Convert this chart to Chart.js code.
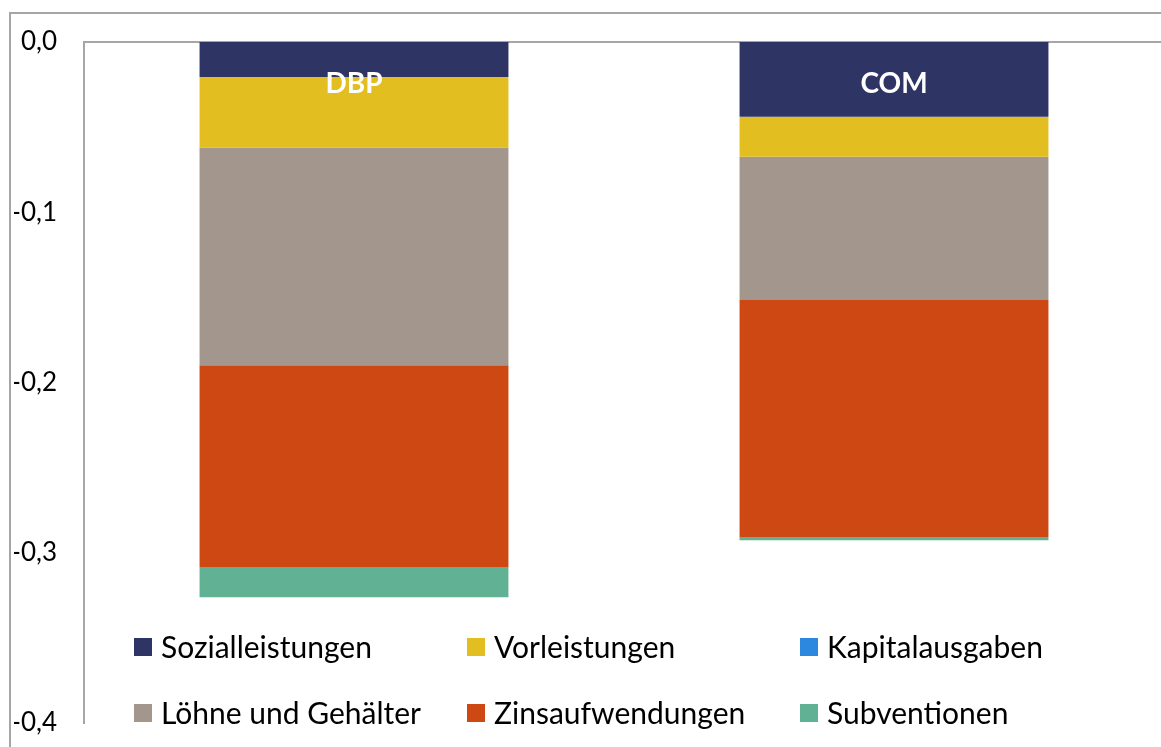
<!DOCTYPE html>
<html>
<head>
<meta charset="utf-8">
<script src="https://cdn.jsdelivr.net/npm/chart.js@4.4.0/dist/chart.umd.min.js"></script>
<style>
  html, body { margin: 0; padding: 0; overflow: hidden; background: #fff; }
  #wrap { position: relative; width: 1170px; height: 747px; }
  #frame { position: absolute; left: 9px; top: 12px; width: 2000px; height: 2000px; border: 2px solid #a6a6a6; box-sizing: border-box; }
  canvas { position: absolute; left: 0; top: 0; }
</style>
</head>
<body>
<div id="wrap">
  <div id="frame"></div>
  <canvas id="chart" width="1170" height="747"></canvas>
</div>
<script>
// Daten
var kategorien = ['DBP', 'COM'];
var sozialleistungen = [-0.0206, -0.0439];
var vorleistungen = [-0.0413, -0.0235];
var kapitalausgaben = [0, 0];
var loehne = [-0.1279, -0.0842];
var zinsen = [-0.1185, -0.1392];
var subventionen = [-0.0178, -0.0018];
var yTicks = [0, -0.1, -0.2, -0.3, -0.4];

var serien = [
  { label: 'Sozialleistungen', data: sozialleistungen, color: '#2E3464' },
  { label: 'Vorleistungen', data: vorleistungen, color: '#E3BE20' },
  { label: 'Kapitalausgaben', data: kapitalausgaben, color: '#2B88DE' },
  { label: 'Löhne und Gehälter', data: loehne, color: '#A3968D' },
  { label: 'Zinsaufwendungen', data: zinsen, color: '#CE4814' },
  { label: 'Subventionen', data: subventionen, color: '#61B195' }
];

// Kategorienamen in den Balken
var labelPlugin = {
  id: 'catLabels',
  afterDatasetsDraw: function(chart) {
    var ctx = chart.ctx;
    var x = chart.scales.x;
    ctx.save();
    ctx.fillStyle = '#ffffff';
    ctx.font = 'bold 28px Lato';
    ctx.textAlign = 'center';
    ctx.textBaseline = 'middle';
    kategorien.forEach(function(k, i) {
      ctx.fillText(k, x.getPixelForValue(i), chart.chartArea.top + 42);
    });
    ctx.restore();
  }
};

// Legende innerhalb der Zeichenfläche, 3 Spalten
var legendPlugin = {
  id: 'innerLegend',
  afterDraw: function(chart) {
    var ctx = chart.ctx;
    var cols = [134, 467, 800];
    var rows = [647, 713];
    ctx.save();
    ctx.font = '30px Lato';
    ctx.textBaseline = 'middle';
    chart.data.datasets.forEach(function(ds, i) {
      var cx = cols[i % 3];
      var cy = rows[Math.floor(i / 3)];
      ctx.fillStyle = ds.backgroundColor;
      ctx.fillRect(cx, cy - 9, 18, 18);
      ctx.fillStyle = '#000000';
      ctx.fillText(ds.label, cx + 27, cy + 1);
    });
    ctx.restore();
  }
};

var chart = new Chart(document.getElementById('chart'), {
  type: 'bar',
  data: {
    labels: kategorien,
    datasets: serien.map(function(s) {
      return {
        label: s.label,
        data: s.data,
        backgroundColor: s.color,
        borderWidth: 0,
        barPercentage: 0.572,
        categoryPercentage: 1
      };
    })
  },
  options: {
    responsive: false,
    animation: false,
    layout: { padding: { left: 14, top: 42, right: 6, bottom: 24 } },
    plugins: { legend: { display: false }, tooltip: { enabled: false } },
    scales: {
      x: {
        stacked: true,
        position: 'top',
        grid: { display: false },
        border: { display: true, color: '#a6a6a6', width: 2 },
        ticks: { display: false },
        afterFit: function(s) { s.height = 0; }
      },
      y: {
        stacked: true,
        min: -0.4,
        max: 0,
        grid: { display: false, drawTicks: false },
        border: { display: true, color: '#a6a6a6', width: 2 },
        afterBuildTicks: function(s) { s.ticks = yTicks.map(function(v) { return { value: v }; }); },
        afterFit: function(s) {
          s.width = 70;
          s.paddingTop = 10;
          s.paddingBottom = 10;
        },
        ticks: {
          padding: 27,
          color: '#000000',
          font: { family: 'Lato', size: 26 },
          callback: function(v) { return Number(v).toFixed(1).replace('.', ','); }
        }
      }
    }
  },
  plugins: [labelPlugin, legendPlugin]
});
</script>
</body>
</html>
